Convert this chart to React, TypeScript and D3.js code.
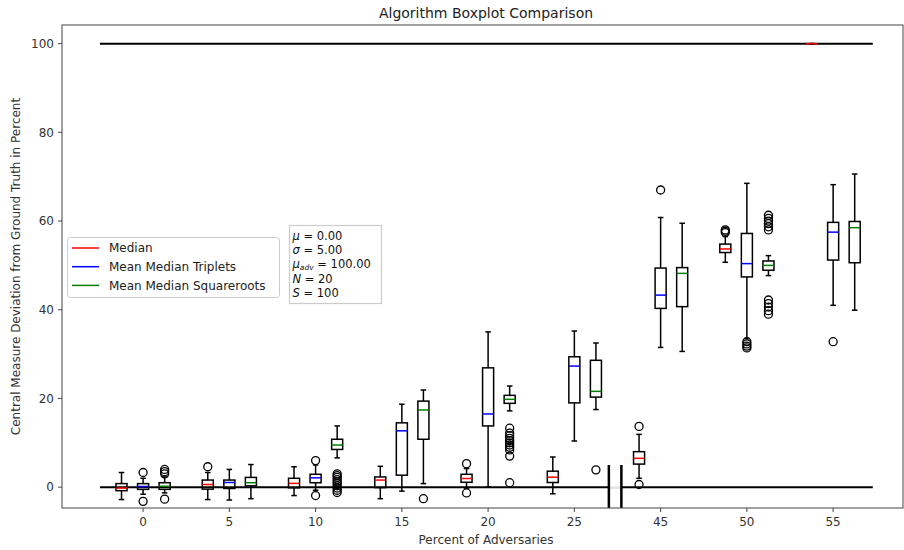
import * as d3 from "d3";
import React from "react";

// group labels on the x axis (percent of adversaries)
const groups = ["0", "5", "10", "15", "20", "25", "45", "50", "55"];

// five number summaries: [whisker low, q1, median, q3, whisker high]
const medianStats = [
    [-2.8, -0.8, -0.2, 0.8, 3.3],
    [-2.8, -0.45, 0.6, 1.6, 3.3],
    [-1.9, -0.15, 0.85, 2.0, 4.6],
    [-2.6, -0.1, 1.6, 2.3, 4.7],
    [-0.2, 1.1, 1.95, 2.9, 4.2],
    [-1.5, 1.05, 2.25, 3.6, 6.8],
    [2.0, 5.2, 6.5, 8.0, 11.9],
    [50.7, 52.9, 53.7, 54.8, 56.5],
    [100, 100, 100, 100, 100],
];
const tripletStats = [
    [-1.6, -0.5, 0.15, 0.8, 2.0],
    [-2.9, -0.3, 1.05, 1.6, 4.0],
    [-0.7, 1.0, 2.1, 2.9, 5.0],
    [-0.9, 2.7, 12.7, 14.5, 18.7],
    [0.05, 13.8, 16.5, 26.9, 35.0],
    [10.4, 19.0, 27.3, 29.4, 35.2],
    [31.5, 40.3, 43.3, 49.4, 60.8],
    [33.5, 47.4, 50.4, 57.2, 68.5],
    [41.0, 51.2, 57.5, 59.7, 68.2],
];
const squarerootStats = [
    [-1.3, -0.5, 0.2, 1.0, 2.3],
    [-2.6, 0.3, 1.0, 2.2, 5.1],
    [6.6, 8.5, 9.5, 10.8, 13.8],
    [0.8, 10.8, 17.4, 19.4, 21.9],
    [17.2, 18.9, 19.8, 20.7, 22.8],
    [17.5, 20.3, 21.6, 28.6, 32.5],
    [30.6, 40.7, 48.2, 49.5, 59.5],
    [47.7, 48.9, 50.0, 51.0, 52.2],
    [39.9, 50.6, 58.5, 59.9, 70.6],
];

// outliers per group
const medianOutliers = [[], [4.6], [], [], [5.3, -1.3], [], [13.7, 0.6], [57.4, 57.7, 58.0], []];
const tripletOutliers = [[3.3, -3.2], [], [6.0, -1.9], [], [], [], [67.0], [32.8, 32.3, 31.8, 31.4], [32.8]];
const squarerootOutliers = [
    [3.0, 3.5, 4.0, -2.7],
    [],
    [3.0, 2.6, 2.2, 1.7, 1.2, 0.8, 0.3, -0.2, -0.7, -1.2],
    [-2.6],
    [13.3, 12.2, 11.6, 11.0, 10.5, 10.0, 9.5, 9.0, 8.4, 7.0, 1.0],
    [3.9],
    [],
    [61.3, 60.6, 60.0, 59.4, 58.7, 58.0, 42.2, 41.4, 40.6, 39.8, 39.0],
    [],
];

const legendLabels = ["Median", "Mean Median Triplets", "Mean Median Squareroots"];
const seriesColors = ["red", "blue", "green"];
const yTicks = [0, 20, 40, 60, 80, 100];
const refLevels = [0, 100];

const W = 904, H = 550;
const font = "DejaVu Sans, sans-serif";

export default function App() {
    const x = d3.scaleLinear().domain([-0.94, 8.81]).range([62, 903]);
    const y = d3.scaleLinear().domain([-4.7, 104.2]).range([508, 25]);

    const series = [
        {stats: medianStats, outliers: medianOutliers, offset: -0.25, color: seriesColors[0]},
        {stats: tripletStats, outliers: tripletOutliers, offset: 0, color: seriesColors[1]},
        {stats: squarerootStats, outliers: squarerootOutliers, offset: 0.25, color: seriesColors[2]},
    ];
    const boxW = 0.128;
    const capW = boxW / 2;
    const breakA = x(5.4), breakB = x(5.545);

    return (
        <svg width={W} height={H} style={{position: "absolute", left: 0, top: 0}} fontFamily={font}>
            <rect width={W} height={H} fill="white"/>
            <text x={486} y={18} textAnchor="middle" fontSize={14} fill="#222">Algorithm Boxplot Comparison</text>

            {/* reference lines at 0 and 100 */}
            {refLevels.map(v => (
                <line key={v} x1={x(-0.5)} x2={x(8.46)} y1={y(v)} y2={y(v)} stroke="black" strokeWidth={2}/>
            ))}

            {series.map((s, si) => (
                <g key={si}>
                    {s.stats.map((st, gi) => {
                        const cx = x(gi + s.offset);
                        const half = (x(boxW) - x(0)) / 2;
                        const cap = (x(capW) - x(0)) / 2;
                        const [lo, q1, med, q3, hi] = st;
                        return (
                            <g key={gi} fill="none" stroke="black" strokeWidth={1.5}>
                                <line x1={cx} x2={cx} y1={y(q3)} y2={y(hi)}/>
                                <line x1={cx} x2={cx} y1={y(q1)} y2={y(lo)}/>
                                <line x1={cx - cap} x2={cx + cap} y1={y(hi)} y2={y(hi)}/>
                                <line x1={cx - cap} x2={cx + cap} y1={y(lo)} y2={y(lo)}/>
                                <rect x={cx - half} y={y(q3)} width={half * 2} height={Math.max(0, y(q1) - y(q3))}/>
                                <line x1={cx - half} x2={cx + half} y1={y(med)} y2={y(med)} stroke={s.color}/>
                                {s.outliers[gi].map((o, oi) => (
                                    <circle key={oi} cx={cx} cy={y(o)} r={4} strokeWidth={1.3}/>
                                ))}
                            </g>
                        );
                    })}
                </g>
            ))}

            {/* axis break marker */}
            <line x1={breakA} x2={breakB} y1={y(0)} y2={y(0)} stroke="white" strokeWidth={3} opacity={0.9}/>
            <line x1={breakA} x2={breakA} y1={y(5)} y2={508} stroke="black" strokeWidth={2.5}/>
            <line x1={breakB} x2={breakB} y1={y(5)} y2={508} stroke="black" strokeWidth={2.5}/>

            {/* axes frame */}
            <rect x={62} y={25} width={841} height={483} fill="none" stroke="#444" strokeWidth={1}/>

            {/* y ticks */}
            {yTicks.map(t => (
                <g key={t}>
                    <line x1={58} x2={62} y1={y(t)} y2={y(t)} stroke="#444"/>
                    <text x={54} y={y(t)} dy="0.35em" textAnchor="end" fontSize={12} fill="#333">{t}</text>
                </g>
            ))}
            {/* x ticks */}
            {groups.map((g, i) => (
                <g key={g}>
                    <line x1={x(i)} x2={x(i)} y1={508} y2={512} stroke="#444"/>
                    <text x={x(i)} y={526} textAnchor="middle" fontSize={12} fill="#333">{g}</text>
                </g>
            ))}
            <text x={486} y={544} textAnchor="middle" fontSize={12} fill="#333">Percent of Adversaries</text>
            <text transform={`translate(20,${266.5}) rotate(-90)`} textAnchor="middle" fontSize={12} fill="#333">
                Central Measure Deviation from Ground Truth in Percent
            </text>

            {/* legend */}
            <rect x={67.5} y={237.5} width={212} height={60} rx={3} fill="white" fillOpacity={0.8} stroke="#ccc"/>
            {legendLabels.map((l, i) => (
                <g key={l}>
                    <line x1={72} x2={99} y1={248 + i * 18.7} y2={248 + i * 18.7} stroke={seriesColors[i]} strokeWidth={1.5}/>
                    <text x={109} y={248 + i * 18.7} dy="0.35em" fontSize={12} fill="#222">{l}</text>
                </g>
            ))}

            {/* parameter box */}
            <rect x={289.5} y={225.5} width={92} height={78} fill="white" stroke="#ccc" strokeWidth={1.2}/>
            <g fontSize={11.5} fill="#111">
                <text x={292.5} y={236} dy="0.35em"><tspan fontStyle="italic">μ</tspan> = 0.00</text>
                <text x={292.5} y={250.3} dy="0.35em"><tspan fontStyle="italic">σ</tspan> = 5.00</text>
                <text x={292.5} y={264.4} dy="0.35em">
                    <tspan fontStyle="italic">μ</tspan><tspan fontStyle="italic" fontSize={7.5} dy="1.5">adv</tspan><tspan dy="-1.5"> = 100.00</tspan>
                </text>
                <text x={292.5} y={278.8} dy="0.35em"><tspan fontStyle="italic">N</tspan> = 20</text>
                <text x={292.5} y={293} dy="0.35em"><tspan fontStyle="italic">S</tspan> = 100</text>
            </g>
        </svg>
    );
}
